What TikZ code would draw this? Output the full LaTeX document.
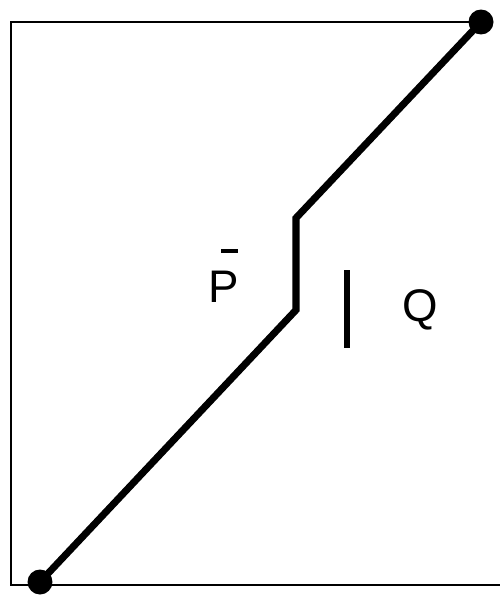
\documentclass[tikz,border=0pt]{standalone}
\usepackage{fontspec}
\setmainfont{Liberation Sans}
\usepackage{tikz}

\begin{document}
\begin{tikzpicture}[x=0.02cm,y=-0.02cm]
  \def\lw{4pt}
  \tikzset{frameline/.style={line width=1.1pt},
           pathline/.style={line width=\lw,line join=miter},
           endpt/.style={circle,fill=black,inner sep=0pt,minimum size=0.5cm},
           lab/.style={font=\fontsize{26}{28}\selectfont,inner sep=0pt}}
  \useasboundingbox (0,0) rectangle (500,595);

  % frame
  \draw[frameline] (500,585) -- (11,585) -- (11,22) -- (481,22);

  % the path with its two ends
  \node[endpt] (s) at (40,582) {};
  \node[endpt] (t) at (481,22) {};
  \coordinate (b1) at (296,310);
  \coordinate (b2) at (296,218);
  \draw[pathline] (s.center) -- (b1) -- (b2) -- (t.center);

  % labels
  \node[lab] (p) at (224,287) {P};
  \draw[line width=2.4pt] ([shift={(-3,-20)}]p.north) -- ([shift={(14,-20)}]p.north);
  \coordinate (qtop) at (347,270);
  \coordinate (qbot) at (347,348);
  \draw[line width=3pt] (qtop) -- (qbot);
  \node[lab] (q) at (420,310) {Q};
\end{tikzpicture}
\end{document}
